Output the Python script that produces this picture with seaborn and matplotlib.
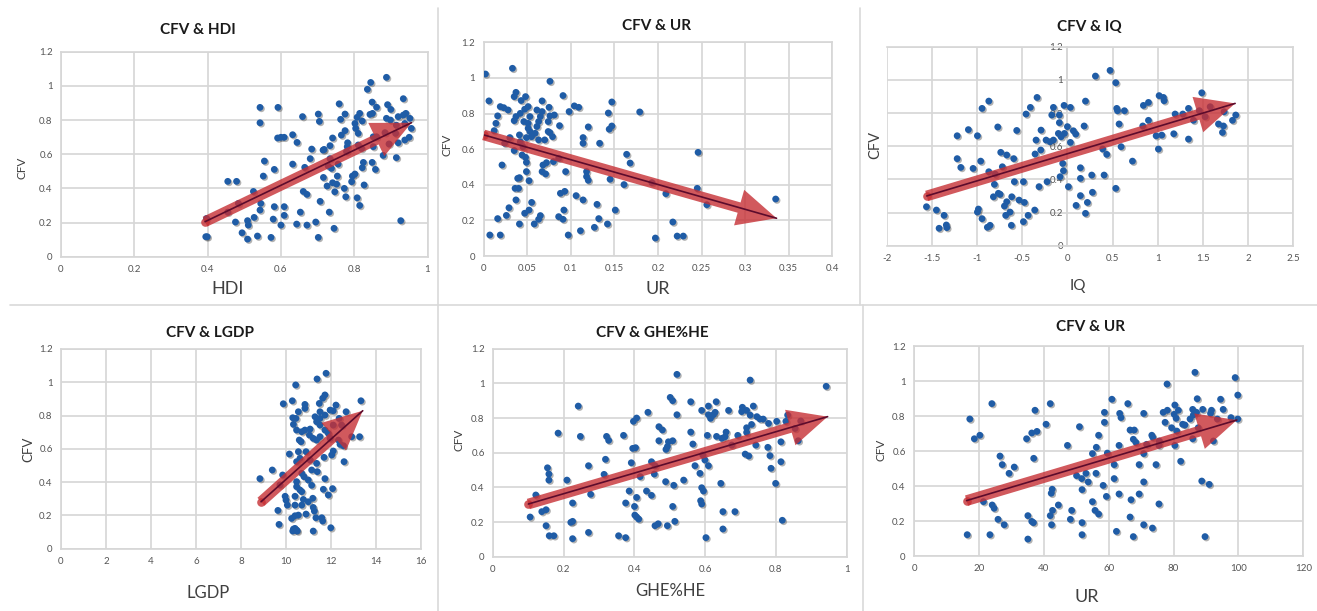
import matplotlib
matplotlib.use('Agg')
import matplotlib.pyplot as plt
import matplotlib.patheffects as pe
from matplotlib.lines import Line2D
import seaborn as sns

hdi_x = [.888,.845,.836,.934,.849,.891,.759,.861,.90,.543,.592,.659,.702,.705,.543,.775,.763,.815,.808,.843,.85,.822,.802,.804,.888,.899,.92,.934,.941,.952,.956,.95,.938,.92,.938,.915,.884,.913,.895,.852,.861,.852,.879,.915,.849,.858,.825,.822,.827,.802,.795,.793,.773,.777,.808,.815,.927,.775,.765,.782,.781,.811,.811,.82,.741,.734,.779,.715,.718,.684,.68,.665,.632,.632,.644,.609,.60,.591,.555,.582,.552,.455,.479,.525,.545,.543,.582,.609,.609,.653,.527,.579,.509,.511,.476,.455,.484,.494,.509,.536,.573,.60,.643,.671,.695,.702,.745,.732,.707,.661,.671,.716,.726,.741,.752,.747,.754,.756,.734,.729,.738,.397,.395,.399]
hdi_y = [1.05,1.02,.98,.925,.905,.89,.895,.875,.862,.874,.874,.82,.835,.792,.784,.835,.804,.839,.816,.833,.839,.794,.78,.751,.81,.80,.82,.829,.839,.81,.751,.699,.683,.667,.78,.77,.726,.722,.66,.702,.702,.644,.593,.58,.552,.511,.552,.521,.42,.484,.472,.439,.40,.351,.345,.30,.211,.738,.712,.667,.644,.722,.654,.634,.695,.65,.615,.624,.628,.63,.574,.523,.542,.714,.669,.699,.699,.695,.56,.511,.472,.441,.441,.382,.312,.273,.293,.293,.242,.261,.23,.22,.211,.185,.203,.261,.312,.14,.103,.121,.113,.185,.191,.185,.203,.113,.166,.261,.324,.382,.365,.464,.414,.433,.425,.38,.472,.542,.574,.531,.517,.224,.117,.117]

ur_share_x = [.002,.033,.076,.006,.037,.035,.048,.043,.091,.067,.019,.023,.028,.016,.014,.012,.051,.047,.061,.067,.075,.042,.037,.035,.053,.065,.081,.076,.046,.051,.063,.074,.087,.051,.061,.074,.076,.079,.07,.063,.053,.059,.055,.049,.041,.03,.024,.042,.045,.035,.044,.048,.049,.021,.049,.067,.071,.068,.072,.08,.086,.094,.052,.041,.039,.036,.04,.037,.055,.029,.052,.047,.065,.063,.026,.016,.041,.058,.007,.019,.097,.111,.086,.091,.092,.088,.093,.106,.114,.13,.132,.127,.142,.151,.145,.161,.118,.118,.12,.114,.114,.12,.133,.144,.147,.143,.147,.098,.104,.109,.179,.164,.168,.209,.246,.245,.256,.217,.222,.229,.197,.335,.193]
ur_share_y = [1.022,1.054,.981,.871,.919,.895,.895,.873,.901,.871,.839,.833,.82,.787,.745,.704,.839,.824,.82,.811,.835,.801,.783,.76,.783,.783,.792,.787,.755,.745,.755,.755,.732,.717,.727,.699,.693,.67,.652,.652,.699,.689,.67,.665,.68,.665,.633,.642,.614,.592,.567,.554,.526,.511,.474,.474,.461,.511,.524,.53,.549,.474,.423,.44,.436,.38,.38,.315,.301,.271,.258,.24,.227,.206,.228,.21,.18,.18,.118,.118,.118,.142,.221,.206,.258,.352,.363,.339,.315,.29,.21,.161,.18,.258,.431,.401,.474,.446,.425,.633,.665,.725,.633,.712,.73,.803,.865,.811,.843,.835,.809,.571,.522,.35,.582,.38,.288,.191,.112,.112,.101,.32,.412]

iq_x = [-1.56,-1.45,-1.365,-1.42,-1.34,-1.335,-1.22,-1.096,-.996,-.945,-.87,-.771,-1.22,-1.18,-1.044,-.96,-.87,-.80,-.72,-.738,-.672,-.594,-.808,-.819,-.764,-.745,-.587,-.487,-.616,-.535,-.476,-.672,-.697,-.985,-.996,-.945,-.856,-.886,-.635,-.683,-.62,-.487,-.435,-.362,-.561,-.458,-.41,-.336,-.292,-.347,-.358,-.295,-.236,-.155,-.192,-.155,-.173,-.089,-.037,.033,-.089,0,.066,.092,-.10,-.033,-.07,.033,.185,.2,.31,.472,.535,.546,.554,.631,.572,.594,.39,.435,.72,.841,.897,.897,.834,1.015,1.063,1.07,.982,1.044,1.007,1.192,1.177,1.34,1.34,1.277,1.395,1.46,1.487,1.58,1.524,1.672,1.727,1.716,1.863,1.827,1.734,-.052,-.044,-.081,-.225,-.314,.011,.144,.144,.269,.406,.535,.277,.144,.221,.096,.2]
iq_y = [.235,.215,.183,.105,.125,.109,.663,.70,.663,.828,.872,.716,.525,.472,.466,.51,.446,.432,.476,.563,.547,.525,.37,.295,.316,.31,.386,.386,.295,.275,.261,.265,.239,.221,.203,.163,.123,.111,.203,.183,.123,.145,.183,.215,.695,.794,.834,.894,.697,.637,.553,.577,.637,.637,.627,.834,.788,.788,.846,.834,.742,.718,.693,.673,.677,.677,.657,.623,.722,.872,1.023,1.057,.983,.828,.814,.814,.734,.597,.583,.551,.51,.846,.864,.756,.722,.905,.894,.874,.663,.667,.583,.794,.675,.643,.828,.794,.756,.814,.922,.838,.778,.734,.722,.683,.788,.756,.808,.496,.452,.416,.386,.356,.356,.47,.406,.426,.426,.346,.322,.302,.261,.243,.195]

lgdp_x = [11.78,11.38,10.43,9.88,10.28,11.73,11.63,11.48,13.33,10.84,12.22,11.96,12.1,12.67,10.55,10.84,11.51,11.29,10.3,10.44,11.51,11.73,10.33,10.47,11.51,10.84,11.07,10.7,11.04,11.21,11.73,11.88,11.51,10.59,10.67,12.1,12.47,12.92,13.27,12.4,12.55,12.1,12.03,12.58,10.55,10.89,10.15,11.69,10.62,10.47,11.07,11.36,11.14,11.39,9.39,9.85,8.84,10.7,10.8,10.99,11.73,10.47,10.47,11.14,10.62,10.7,11.66,12.07,11.88,10.4,9.96,10,10.06,10.4,10.7,10.77,10.99,11.19,11.21,11.26,9.64,10.89,10.55,10.4,10.25,11.33,11.59,11.63,9.69,10.33,10.47,10.4,10.3,10.5,11.21,11.99,11.36,12.36,11.96,11.36,9.73,12.33]
lgdp_y = [1.054,1.02,.984,.871,.889,.924,.904,.873,.889,.867,.863,.833,.829,.823,.823,.843,.823,.793,.787,.783,.783,.803,.747,.713,.743,.713,.719,.703,.683,.663,.713,.693,.673,.653,.643,.743,.743,.673,.673,.627,.619,.587,.563,.523,.583,.583,.569,.549,.543,.523,.533,.513,.473,.463,.473,.443,.421,.453,.433,.413,.421,.403,.373,.381,.353,.343,.357,.361,.323,.315,.315,.292,.262,.262,.262,.296,.282,.303,.248,.226,.23,.208,.202,.198,.182,.186,.186,.166,.146,.118,.112,.122,.106,.106,.106,.126,.763,.783,.663,.653,.383,.653]

ghe_x = [.52,.727,.942,.241,.501,.508,.559,.631,.609,.59,.666,.705,.703,.717,.736,.52,.438,.406,.397,.609,.615,.628,.623,.727,.746,.755,.764,.779,.802,.833,.828,.731,.717,.717,.469,.479,.559,.659,.184,.247,.321,.327,.369,.469,.496,.508,.565,.606,.632,.647,.656,.692,.675,.743,.777,.814,.863,.854,.87,.395,.403,.489,.493,.121,.318,.27,.391,.448,.458,.456,.416,.314,.154,.158,.158,.209,.488,.511,.539,.585,.593,.599,.609,.571,.713,.723,.814,.783,.786,.799,.644,.59,.595,.587,.59,.276,.385,.434,.448,.406,.375,.40,.225,.508,.138,.15,.105,.15,.225,.22,.401,.406,.412,.458,.467,.493,.514,.65,.684,.65,.818,.602,.27,.355,.375,.225,.159,.172]
ghe_y = [1.052,1.019,.983,.869,.919,.90,.894,.894,.869,.844,.844,.862,.837,.844,.869,.819,.833,.80,.781,.819,.798,.833,.819,.817,.808,.794,.794,.769,.781,.817,.781,.763,.744,.717,.75,.731,.719,.719,.713,.694,.694,.671,.70,.669,.663,.669,.65,.70,.694,.683,.692,.70,.644,.644,.631,.663,.669,.74,.783,.625,.629,.619,.635,.356,.562,.525,.542,.548,.525,.477,.462,.475,.513,.477,.442,.442,.433,.412,.442,.481,.587,.558,.525,.525,.592,.581,.548,.583,.51,.423,.423,.398,.379,.323,.304,.36,.379,.379,.354,.342,.31,.29,.31,.29,.26,.271,.229,.179,.204,.198,.24,.229,.217,.179,.19,.179,.204,.26,.26,.16,.21,.11,.14,.121,.11,.104,.121,.121]

ur_x = [86.6,99,78,99.8,87.3,94.5,61,65.9,24,42,80.4,85.9,89,95.3,81.5,78.1,76.8,80.2,91.7,91.4,87.1,86.1,37.3,58.7,63.4,63.8,70.8,80.8,85.1,97.7,99.8,93.5,17.2,58.7,77.4,82.8,83.5,40.7,51,79.4,81,87.6,66.6,67.9,37.9,36.3,34.7,18.6,20.3,56.9,73.3,73.6,67.6,68.4,75.6,85.9,92.3,47.3,56.2,63.2,71.7,75.5,80.4,59.6,55,70.8,82.2,26.5,27.2,36.9,30.9,29.3,61.7,69.4,74.6,50.1,51.7,53,56.1,53.7,61.7,70.8,88.7,91,58.3,51.8,42.6,42.3,59.3,63.2,69.4,66.9,75.5,55,21.4,24.1,24.7,44.5,42.7,42,48.6,55.8,56.9,35.1,25.9,27.8,36.3,36.8,42.4,48.2,51.8,66.6,70.8,73.5,62.4,51.8,67.6,89.7,16.4,23.4,35.1]
ur_y = [1.051,1.021,.984,.921,.90,.897,.897,.872,.872,.872,.864,.839,.839,.839,.834,.834,.822,.811,.834,.816,.822,.807,.834,.822,.816,.792,.816,.788,.784,.792,.784,.784,.784,.765,.765,.754,.75,.754,.74,.734,.715,.734,.721,.721,.713,.704,.671,.671,.691,.691,.691,.679,.668,.65,.658,.671,.658,.633,.622,.633,.639,.633,.633,.589,.586,.586,.542,.572,.523,.559,.509,.473,.523,.523,.523,.46,.443,.473,.473,.424,.443,.424,.429,.41,.404,.38,.382,.359,.341,.355,.355,.322,.298,.311,.311,.292,.273,.292,.261,.231,.261,.261,.24,.231,.21,.179,.198,.191,.179,.21,.191,.223,.179,.16,.141,.122,.111,.111,.122,.122,.097]

cfv_ticks = [0, 0.2, 0.4, 0.6, 0.8, 1, 1.2]
cfv_labels = ['0', '0.2', '0.4', '0.6', '0.8', '1', '1.2']
unit_ticks = [0, 0.2, 0.4, 0.6, 0.8, 1]
unit_labels = ['0', '0.2', '0.4', '0.6', '0.8', '1']
share_ticks = [0, 0.05, 0.1, 0.15, 0.2, 0.25, 0.3, 0.35, 0.4]
share_labels = ['0', '0.05', '0.1', '0.15', '0.2', '0.25', '0.3', '0.35', '0.4']
iq_ticks = [-2, -1.5, -1, -0.5, 0, 0.5, 1, 1.5, 2, 2.5]
iq_labels = ['-2', '-1.5', '-1', '-0.5', '0', '0.5', '1', '1.5', '2', '2.5']
lgdp_ticks = [0, 2, 4, 6, 8, 10, 12, 14, 16]
ur_ticks = [0, 20, 40, 60, 80, 100, 120]

W, H = 1317, 611
BLUE = '#1f5ca6'
GRID = '#d6d6d6'
RED = '#c62f34'

sns.set_theme(style='white')
plt.rcParams['font.family'] = ['Lato', 'DejaVu Sans']

fig = plt.figure(figsize=(W / 100, H / 100), dpi=100, facecolor='white')

# box = left, right, top, bottom of the plot area in pixels
# trend = tail and tip of the arrow in data units
panels = [
    dict(x=hdi_x, y=hdi_y, title='CFV & HDI', xlabel='HDI', ticks=unit_ticks, labels=unit_labels,
         box=(61, 427.5, 51.7, 256.7), trend=(.393, .205, .956, .784),
         title_at=(198, 30), xlabel_at=(228, 289), ylabel_at=(22, 168), xsize=13, ysize=8.5),
    dict(x=ur_share_x, y=ur_share_y, title='CFV & UR', xlabel='UR', ticks=share_ticks, labels=share_labels,
         box=(483.7, 832.3, 42.3, 256), trend=(0.0, .68, .336, .212),
         title_at=(657, 26), xlabel_at=(658, 289), ylabel_at=(447, 145), xsize=13, ysize=8.5),
    dict(x=iq_x, y=iq_y, title='CFV & IQ', xlabel='IQ', ticks=iq_ticks, labels=iq_labels,
         box=(886.7, 1293.3, 46.7, 245.7), trend=(-1.557, .30, 1.856, .858),
         title_at=(1089, 27), xlabel_at=(1078, 286), ylabel_at=(875, 145), xsize=11, ysize=10.5),
    dict(x=lgdp_x, y=lgdp_y, title='CFV & LGDP', xlabel='LGDP', ticks=lgdp_ticks, labels=lgdp_ticks,
         box=(61, 421, 349, 548.7), trend=(8.89, .282, 13.41, .829),
         title_at=(210, 333), xlabel_at=(208, 593), ylabel_at=(28, 449), xsize=12, ysize=9.5),
    dict(x=ghe_x, y=ghe_y, title='CFV & GHE%HE', xlabel='GHE%HE', ticks=unit_ticks, labels=unit_labels,
         box=(493, 846.7, 348.7, 556.7), trend=(.10, .304, .946, .808),
         title_at=(652, 333), xlabel_at=(670, 591), ylabel_at=(459, 440), xsize=12, ysize=8.5),
    dict(x=ur_x, y=ur_y, title='CFV & UR', xlabel='UR', ticks=ur_ticks, labels=ur_ticks,
         box=(914, 1303.3, 346.3, 556), trend=(16.2, .317, 99.5, .778),
         title_at=(1091, 327), xlabel_at=(1087, 597), ylabel_at=(881, 450), xsize=13, ysize=8.5),
]

for p in panels:
    left, right, top, bottom = p['box']
    ax = fig.add_axes([left / W, 1 - bottom / H, (right - left) / W, (bottom - top) / H])
    sns.scatterplot(x=p['x'], y=p['y'], ax=ax, color=BLUE, s=24, linewidth=0, zorder=3,
                    path_effects=[pe.SimplePatchShadow(offset=(1, -1), shadow_rgbFace='#555555', alpha=0.45), pe.Normal()])

    ax.set_xlim(p['ticks'][0], p['ticks'][-1])
    ax.set_ylim(0, 1.2)
    ax.set_xticks(p['ticks'], labels=p['labels'])
    ax.set_yticks(cfv_ticks, labels=cfv_labels)
    ax.grid(True, color=GRID, linewidth=1.2)
    ax.set_axisbelow(True)
    ax.tick_params(length=0, labelsize=7, labelcolor='#555555', pad=6)
    for s in ax.spines.values():
        s.set_color(GRID)
        s.set_linewidth(1.2)
    if p['xlabel'] == 'IQ':
        # the y axis of this one crosses at zero, labels sit inside the plot
        ax.spines['left'].set_position(('data', 0))
        ax.tick_params(axis='y', pad=3)

    ax.set_title(p['title'], fontsize=11, fontweight='bold', color='#1a1a1a',
                 x=p['title_at'][0] / W, y=1 - p['title_at'][1] / H, va='center', transform=fig.transFigure)
    ax.set_xlabel(p['xlabel'], fontsize=p['xsize'], color='#404040', va='center')
    ax.xaxis.set_label_coords(p['xlabel_at'][0] / W, 1 - p['xlabel_at'][1] / H, transform=fig.transFigure)
    ax.set_ylabel('CFV', fontsize=p['ysize'], color='#404040', va='center')
    ax.yaxis.set_label_coords(p['ylabel_at'][0] / W, 1 - p['ylabel_at'][1] / H, transform=fig.transFigure)

    # fat red trend arrow with a thin dark line through it
    x0, y0, x1, y1 = p['trend']
    ax.annotate('', xy=(x1, y1), xytext=(x0, y0), zorder=4,
                arrowprops=dict(arrowstyle='simple,tail_width=0.55,head_width=1.9,head_length=2.0',
                                mutation_scale=14, shrinkA=0, shrinkB=0, lw=0, fc=RED, alpha=0.8))
    ax.plot([x0], [y0], marker='o', ms=6.2, mew=0, color=RED, alpha=0.8, zorder=4)
    ax.plot([x0, x1], [y0, y1], color='#5c0b2c', lw=1.2, zorder=5)

# thin separators between the pasted charts
for x0, y0, x1, y1 in [(438, 8, 438, 305), (860, 8, 860, 305), (10, 305, 1317, 305), (438, 305, 438, 611), (863, 305, 863, 611)]:
    fig.add_artist(Line2D([x0 / W, x1 / W], [1 - y0 / H, 1 - y1 / H], color='#d9d9d9', lw=1.2))

fig.savefig('out.png', dpi=100)
